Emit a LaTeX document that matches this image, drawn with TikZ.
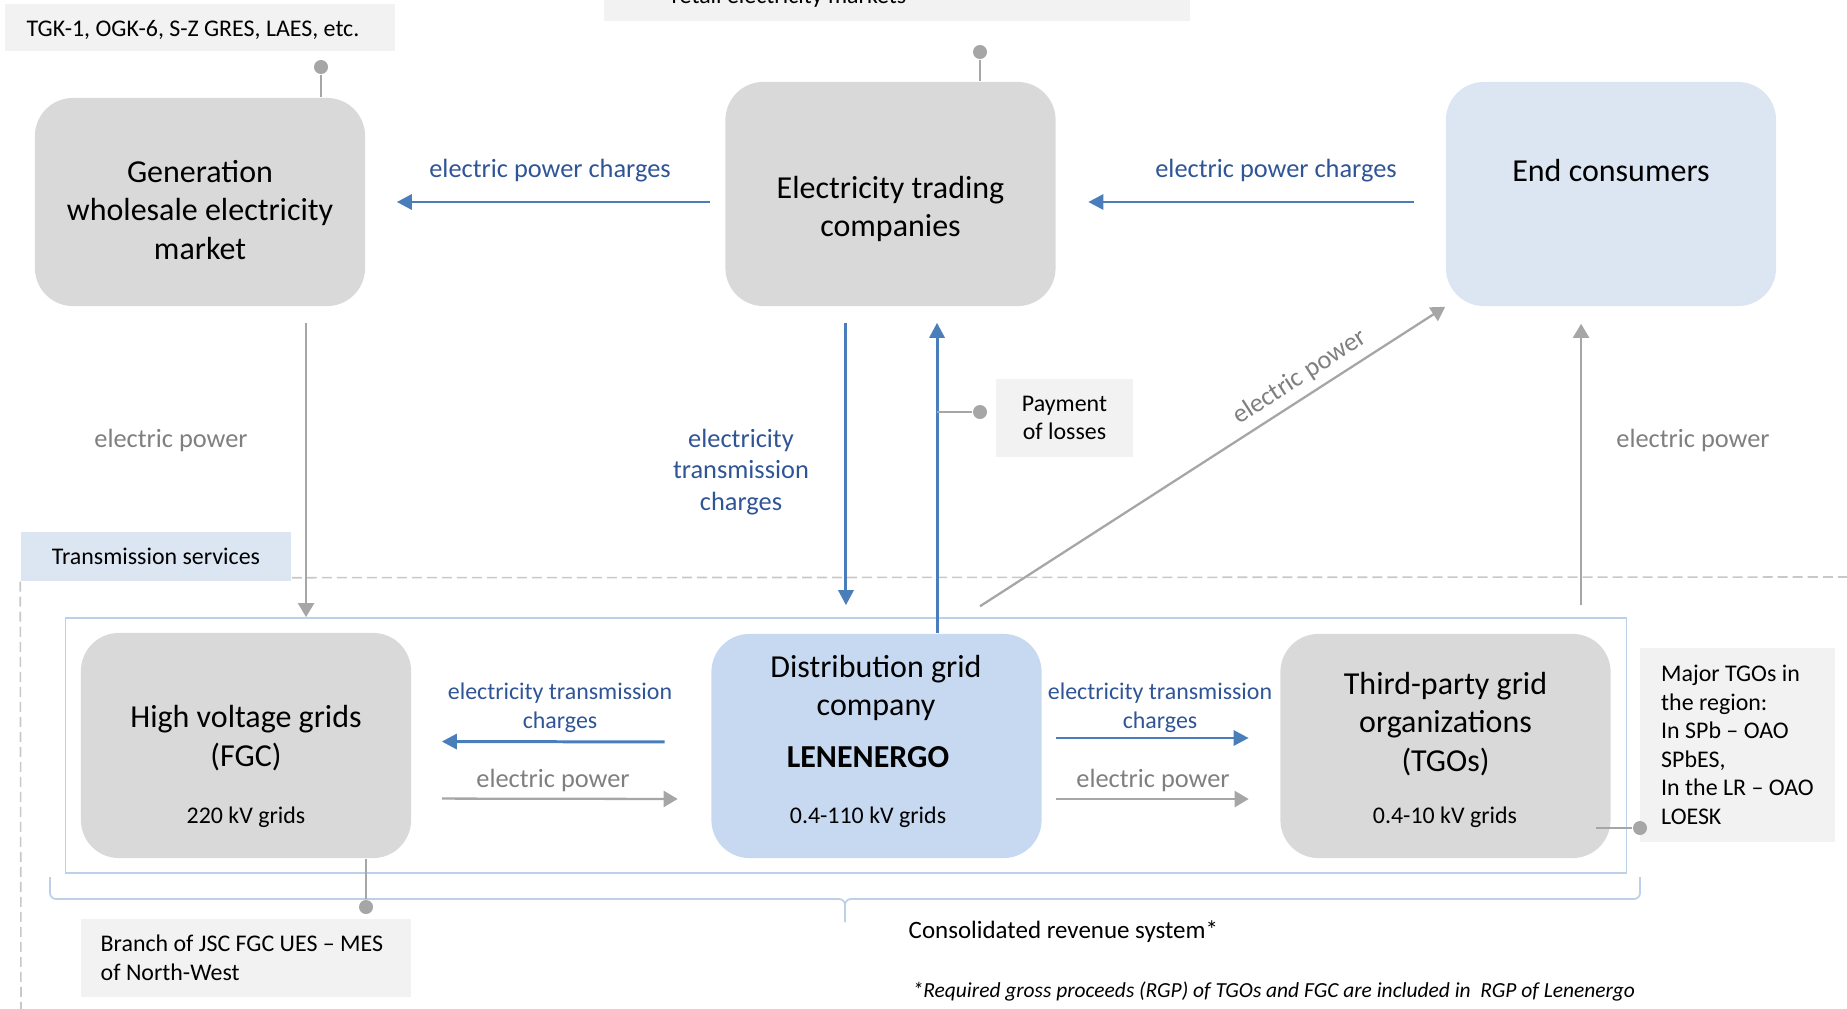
\documentclass[tikz,border=0pt]{standalone}
\usepackage{fontspec}
\setmainfont{Carlito}
\usetikzlibrary{positioning, arrows.meta, calc}

\definecolor{boxgrey}{HTML}{D9D9D9}
\definecolor{notegrey}{HTML}{F2F2F2}
\definecolor{consblue}{HTML}{DCE6F2}
\definecolor{distblue}{HTML}{C6D9F1}
\definecolor{frameblue}{HTML}{BDD0EA}
\definecolor{arrowblue}{HTML}{4A7EBB}
\definecolor{labelblue}{HTML}{2F5597}
\definecolor{labelgrey}{HTML}{7F7F7F}
\definecolor{linegrey}{HTML}{A6A6A6}
\definecolor{dashgrey}{HTML}{C8C8C8}

\newcommand{\diaboxfont}{\fontsize{9.1}{10.9}\selectfont}
\newcommand{\dianotefont}{\fontsize{6.8}{8.1}\selectfont}
\newcommand{\dialabelfont}{\fontsize{7.5}{8.3}\selectfont}

\begin{document}
\begin{tikzpicture}[x=0.01cm, y=-0.01cm,
bigbox/.style={rectangle, rounded corners=0.38cm, fill=boxgrey, minimum width=3.3cm, minimum height=2.24cm},
notebox/.style={rectangle, fill=notegrey, font=\dianotefont, inner sep=0pt},
titletext/.style={align=center, font=\diaboxfont, inner sep=0pt},
smalltext/.style={font=\dianotefont, inner sep=0pt},
bluelabel/.style={align=center, text=labelblue, font=\dialabelfont, inner sep=0pt},
greylabel/.style={align=center, text=labelgrey, font=\dialabelfont, inner sep=0pt},
bluearrow/.style={draw=arrowblue, line width=0.85pt, -{Triangle[length=0.15cm, width=0.15cm]}},
greyarrow/.style={draw=linegrey, line width=0.65pt, -{Triangle[length=0.14cm, width=0.16cm]}},
pindot/.style={circle, fill=linegrey, minimum size=0.14cm, inner sep=0pt},
pinline/.style={draw=linegrey, line width=0.65pt},
dashline/.style={draw=dashgrey, line width=0.45pt, dash pattern=on 0.1cm off 0.05cm},
braceline/.style={draw=frameblue, line width=0.5pt, rounded corners=0.06cm},
]
    \useasboundingbox (0,0) rectangle (1847,1009);

    % boxes
    \node[bigbox, minimum height=2.08cm]   (gen)    at (200,202)    {};
    \node[bigbox]                          (trade)  at (890.5,194)  {};
    \node[bigbox, fill=consblue]           (cons)   at (1611,194)   {};
    \node[bigbox, minimum height=2.25cm]   (hv)     at (246,745.5)  {};
    \node[bigbox, fill=distblue]           (dist)   at (876.5,746)  {};
    \node[bigbox]                          (tgo)    at (1445.5,746) {};
    \node[draw=frameblue, line width=0.45pt, minimum width=15.6cm, minimum height=2.55cm, inner sep=0pt] (frame) at (846,745.5) {};

    \node[titletext]                       (gentext)   at (200,210)    {Generation\\wholesale electricity\\market};
    \node[titletext]                       (tradetext) at (890.5,209)  {Electricity trading\\companies};
    \node[titletext, anchor=base]          (constext)  at (1611,182)   {End consumers};
    \node[titletext]                       (hvtext)    at (246,738)    {High voltage grids\\(FGC)};
    \node[smalltext, anchor=base]          (hvkv)      at (246,823)    {220 kV grids};
    \node[titletext]                       (disttext)  at (876,688)    {Distribution grid\\company};
    \node[titletext, anchor=base, font=\diaboxfont\bfseries] (distname) at (868,767) {LENENERGO};
    \node[smalltext, anchor=base]          (distkv)    at (868,823)    {0.4-110 kV grids};
    \node[titletext]                       (tgotext)   at (1445.5,724) {Third-party grid\\organizations\\(TGOs)};
    \node[smalltext, anchor=base]          (tgokv)     at (1445,823)   {0.4-10 kV grids};

    % notes
    \node[notebox, minimum width=3.9cm, minimum height=0.47cm]            (tgk)     at (200,27.5)   {};
    \node[smalltext, anchor=base west]                                    (tgktext) at (26,36)      {TGK-1, OGK-6, S-Z GRES, LAES, etc.};
    \node[notebox, minimum width=5.86cm, minimum height=0.8cm]            (retail)  at (897,-19)    {};
    \node[smalltext, anchor=base west]                                    (retailtext) at (671,4)   {retail electricity markets};
    \node[notebox, minimum width=1.37cm, minimum height=0.78cm, align=center] (pay) at (1064.5,418) {Payment\\of losses};
    \node[notebox, fill=consblue, minimum width=2.7cm, minimum height=0.49cm] (trans) at (156,556.5) {Transmission services};
    \node[notebox, minimum width=3.3cm, minimum height=0.78cm]            (branch)  at (246,958)    {};
    \node[smalltext, anchor=west, align=left]                             (branchtext) at (100,958) {Branch of JSC FGC UES – MES\\of North-West};
    \node[notebox, minimum width=1.95cm, minimum height=1.94cm, align=left] (major)   at (1737.5,745) {Major TGOs in\\the region:\\In SPb – OAO\\SPbES,\\In the LR – OAO\\LOESK};

    \node[pindot] (gendot)   at (321,67)   {};
    \node[pindot] (tradedot) at (980,52)   {};
    \node[pindot] (paydot)   at (980,412)  {};
    \node[pindot] (hvdot)    at (366,907)  {};
    \node[pindot] (tgodot)   at (1640,828) {};

    \coordinate (downtop)  at ([xshift=-0.445cm]trade.south);
    \coordinate (upfoot)   at ([xshift=0.605cm]dist.north);
    \coordinate (diagfoot) at ([xshift=1.035cm, yshift=0.27cm]dist.north);
    \coordinate (tgofoot)  at ([xshift=1.355cm, yshift=0.28cm]tgo.north);

    % service area
    \draw[dashline] ([yshift=0.04cm]trans.south east) -- (1847,577);
    \draw[dashline] (trans.south west) -- (21,1009);
    \draw[braceline] (50,877) |- (845,899) -- (845,922);
    \draw[braceline] (845,922) -- (845,899) -| (1640,877);

    % money
    \draw[bluearrow, shorten <=0.15cm, shorten >=0.31cm] (trade.west |- gen.east) -- (gen.east);
    \draw[bluearrow, shorten <=0.31cm, shorten >=0.32cm] (cons.west |- gen.east) -- (trade.east |- gen.east);
    \draw[bluearrow, shorten <=0.16cm, shorten >=0.28cm] (downtop) -- (downtop |- dist.north);
    \draw[bluearrow, shorten >=0.16cm] (upfoot) -- (upfoot |- trade.south);
    \draw[bluearrow, shorten <=0.46cm, shorten >=0.30cm] ([yshift=0.04cm]dist.west) -- ([yshift=0.04cm]hv.east);
    \draw[bluearrow, shorten <=0.14cm, shorten >=0.31cm] ([yshift=0.08cm]dist.east) -- ([yshift=0.08cm]tgo.west);

    % power
    \draw[greyarrow, shorten <=0.16cm] ([xshift=1.06cm]gen.south) -- ([xshift=1.06cm]gen.south |- frame.north);
    \draw[greyarrow] (diagfoot) -- node[greylabel, sloped, above=0.07cm, pos=0.71] (diaglabel) {electric power} (cons.south west);
    \draw[greyarrow, shorten >=0.17cm] (tgofoot) -- (tgofoot |- cons.south);
    \draw[greyarrow, shorten <=0.30cm, shorten >=0.33cm] ([yshift=-0.53cm]hv.east) -- ([yshift=-0.53cm]dist.west);
    \draw[greyarrow, shorten <=0.14cm, shorten >=0.31cm] ([yshift=-0.53cm]dist.east) -- ([yshift=-0.53cm]tgo.west);

    % pins
    \draw[pinline] (gendot) -- (gendot |- gen.north);
    \draw[pinline] (tradedot) -- (tradedot |- trade.north);
    \draw[pinline] (paydot) -- (paydot -| upfoot);
    \draw[pinline] (hvdot) -- (hvdot |- hv.south);
    \draw[pinline] (tgodot) -- ([xshift=-0.15cm]tgodot -| tgo.east);

    \node[bluelabel, anchor=base] (chargeleft)  at (550,177)  {electric power charges};
    \node[bluelabel, anchor=base] (chargeright) at (1276,177) {electric power charges};
    \node[greylabel, anchor=base] (powergen)    at (171,447)  {electric power};
    \node[bluelabel, font=\fontsize{7.5}{9}\selectfont] (chargedown) at (741,472) {electricity\\transmission\\charges};
    \node[greylabel, anchor=base] (powercons)   at (1693,447) {electric power};
    \node[bluelabel, font=\fontsize{6.8}{8.3}\selectfont] (chargehv)  at (560,708)  {electricity transmission\\charges};
    \node[greylabel, anchor=base] (powerhv)     at (553,787)  {electric power};
    \node[bluelabel, font=\fontsize{6.8}{8.3}\selectfont] (chargetgo) at (1160,708) {electricity transmission\\charges};
    \node[greylabel, anchor=base] (powertgo)    at (1153,787) {electric power};

    \node[smalltext, anchor=base west, font=\fontsize{7.1}{8.5}\selectfont] (crs) at (908,938) {Consolidated revenue system*};
    \node[smalltext, anchor=base west, font=\fontsize{6.1}{7.3}\selectfont\itshape] (rgp) at (912,997) {*Required gross proceeds (RGP) of TGOs and FGC are included in\ \ RGP of Lenenergo};
\end{tikzpicture}
\end{document}
